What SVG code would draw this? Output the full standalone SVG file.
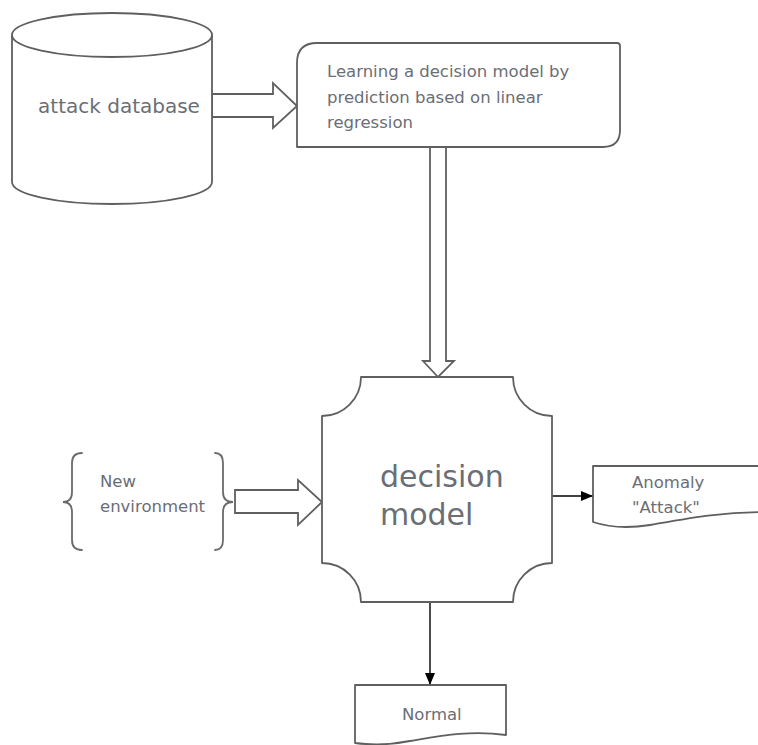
<svg xmlns="http://www.w3.org/2000/svg" width="758" height="745" viewBox="0 0 758 745">
  <defs>
    <style>
      .shape { fill: #ffffff; stroke: #5f5f5f; stroke-width: 1.8; stroke-linejoin: round; }
      .brace { fill: none; stroke: #6a6a6a; stroke-width: 1.8; stroke-linecap: round; }
      .block { fill: #ffffff; stroke: #5f5f5f; stroke-width: 1.8; stroke-linejoin: miter; }
      .link { fill: none; stroke: #000000; stroke-width: 1.4; }
      .lbl { font-family: "DejaVu Sans", "Liberation Sans", sans-serif; fill: #6a6e75; }
      .sm { font-size: 16.5px; }
    </style>
    <marker id="head" markerUnits="userSpaceOnUse" markerWidth="14" markerHeight="12" refX="12" refY="5" orient="auto">
      <path d="M0,0 L12,5 L0,10 Z" fill="#000000"/>
    </marker>
  </defs>
  <rect width="758" height="745" fill="#ffffff"/>

  <!-- block arrows and plain connectors -->
  <g id="connectors">
    <polygon class="block" points="212,94 273,94 273,83 297,106 273,128 273,117 212,117"/>
    <polygon class="block" points="430,147 446,147 446,361 454,361 438,377 423,361 430,361"/>
    <polygon class="block" points="235,490 298,490 298,480 322,502 298,525 298,513 235,513"/>
    <line class="link" x1="552" y1="496" x2="593" y2="496" marker-end="url(#head)"/>
    <line class="link" x1="430" y1="602" x2="430" y2="685" marker-end="url(#head)"/>
  </g>

  <!-- data store cylinder -->
  <g id="attack-database">
    <path class="shape" d="M12,35 L12,182 A100,22 0 0 0 212,182 L212,35"/>
    <ellipse class="shape" cx="112" cy="35" rx="100" ry="22"/>
    <text class="lbl" x="119" y="113" font-size="20" text-anchor="middle">attack database</text>
  </g>

  <!-- learning process -->
  <g id="learning">
    <path class="shape" d="M317,43 L617,43 Q620,43 620,46 L620,130 Q620,147 603,147 L297,147 L297,63 Q297,43 317,43 Z"/>
    <text class="lbl sm" x="327" y="77">Learning a decision model by</text>
    <text class="lbl sm" x="327" y="103">prediction based on linear</text>
    <text class="lbl sm" x="327" y="128">regression</text>
  </g>

  <!-- decision model -->
  <g id="decision-model">
    <path class="shape" d="M361,377 L513,377 A39,39 0 0 0 552,416 L552,563 A39,39 0 0 0 513,602 L361,602 A39,39 0 0 0 322,563 L322,416 A39,39 0 0 0 361,377 Z"/>
    <text class="lbl" x="380" y="487" font-size="30">decision</text>
    <text class="lbl" x="380" y="525" font-size="30">model</text>
  </g>

  <!-- input annotation -->
  <g id="new-environment">
    <path class="brace" d="M82,453 Q72,453 72,463 L72,492 Q72,502 63,502 Q72,502 72,512 L72,540 Q72,550 82,550"/>
    <path class="brace" d="M215,453 Q223,453 223,463 L223,492 Q223,502 233,502 Q223,502 223,512 L223,540 Q223,550 215,550"/>
    <text class="lbl sm" x="100" y="487">New</text>
    <text class="lbl sm" x="100" y="512">environment</text>
  </g>

  <!-- outcome documents -->
  <g id="anomaly">
    <path class="shape" d="M593,466 L770,466 L770,512 C720,512 690,518 650,525 C625,529 605,526 593,522 Z"/>
    <text class="lbl sm" x="632" y="488">Anomaly</text>
    <text class="lbl sm" x="632" y="513">"Attack"</text>
  </g>

  <g id="normal">
    <path class="shape" d="M355,685 L506,685 L506,735 C470,730 440,736 410,741 C390,745 370,745 355,743 Z"/>
    <text class="lbl sm" x="402" y="720">Normal</text>
  </g>
</svg>
